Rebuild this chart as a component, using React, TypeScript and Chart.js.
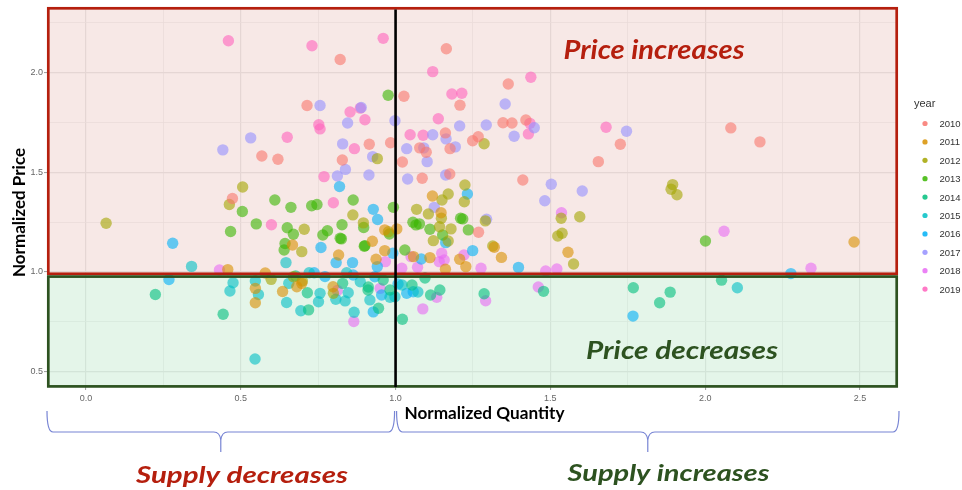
import React, { useEffect, useRef } from 'react';
import { Chart, registerables } from 'chart.js';

Chart.register(...registerables);

// ---------- data ----------
const years = ['2010', '2011', '2012', '2013', '2014', '2015', '2016', '2017', '2018', '2019'];
const yearColors = ['#F8766D', '#D89000', '#A3A500', '#39B600', '#00BF7D', '#00BFC4', '#00B0F6', '#9590FF', '#E76BF3', '#FF62BC'];

const d2010 = [[0.821,2.065],[0.714,1.834],[1.164,2.119],[1.364,1.942],[1.027,1.881],[1.208,1.836],[1.347,1.748],[1.376,1.747],[1.421,1.762],[1.161,1.697],[1.249,1.658],[1.267,1.678],[0.984,1.648],[1.078,1.622],[1.099,1.600],[1.176,1.618],[1.022,1.551],[0.915,1.640],[0.568,1.581],[0.620,1.565],[0.828,1.561],[0.473,1.368],[1.086,1.470],[1.175,1.491],[1.411,1.461],[1.268,1.199],[1.655,1.553],[1.726,1.640],[2.083,1.722],[2.177,1.652]];
const d2011 = [[0.458,1.012],[0.579,0.995],[0.547,0.918],[0.547,0.846],[0.681,0.926],[0.697,0.943],[0.635,0.902],[0.798,0.926],[0.667,1.135],[0.816,1.085],[0.925,1.154],[0.965,1.211],[1.004,1.216],[0.965,1.107],[0.937,1.064],[1.119,1.381],[1.147,1.297],[1.058,1.077],[1.111,1.072],[1.207,1.064],[1.227,1.027],[1.161,1.014],[1.319,1.124],[1.342,1.073],[1.557,1.099],[2.481,1.150]];
const d2012 = [[0.065,1.244],[0.506,1.426],[0.463,1.338],[0.862,1.286],[0.705,1.214],[0.896,1.246],[0.977,1.202],[0.941,1.568],[1.286,1.643],[0.697,1.102],[0.598,0.963],[0.670,0.976],[0.699,0.955],[0.799,0.893],[1.224,1.436],[1.170,1.391],[1.150,1.361],[1.222,1.352],[1.068,1.314],[1.106,1.291],[1.148,1.269],[1.142,1.227],[1.179,1.216],[1.290,1.256],[1.122,1.157],[1.170,1.155],[1.314,1.130],[1.524,1.180],[1.538,1.194],[1.595,1.277],[1.535,1.269],[1.575,1.040],[1.895,1.438],[1.890,1.415],[1.909,1.387]];
const d2013 = [[0.976,1.886],[0.610,1.361],[0.662,1.324],[0.729,1.332],[0.746,1.338],[0.863,1.361],[0.993,1.324],[0.505,1.303],[0.467,1.203],[0.550,1.241],[0.650,1.222],[0.670,1.189],[0.765,1.185],[0.780,1.207],[0.821,1.169],[0.825,1.166],[0.827,1.237],[0.897,1.223],[0.901,1.132],[0.643,1.143],[0.640,1.110],[0.899,1.129],[1.066,1.236],[1.077,1.241],[1.111,1.214],[1.210,1.269],[1.217,1.266],[1.235,1.211],[1.152,1.185],[1.030,1.110],[2.001,1.155],[0.980,1.190],[1.056,1.249]];
const d2014 = [[0.224,0.887],[0.443,0.788],[0.715,0.896],[0.719,0.810],[0.677,0.980],[0.829,0.943],[0.912,0.925],[0.960,0.960],[0.945,0.818],[1.022,0.763],[1.113,0.885],[1.286,0.891],[1.478,0.903],[1.768,0.921],[1.887,0.899],[1.853,0.846],[2.053,0.959],[0.911,0.910],[1.053,0.935],[1.095,0.970],[1.143,0.910],[0.982,0.910]];
const d2015 = [[0.341,1.028],[0.475,0.946],[0.465,0.905],[0.547,0.955],[0.557,0.887],[0.646,1.047],[0.655,0.943],[0.648,0.847],[0.694,0.806],[0.756,0.893],[0.751,0.851],[0.721,0.996],[0.842,0.996],[0.847,0.896],[0.837,0.855],[0.807,0.863],[0.866,0.798],[0.546,0.564],[0.886,0.951],[0.982,0.873],[0.998,0.876],[2.104,0.921],[1.021,0.935],[1.072,0.900],[0.917,0.860]];
const d2016 = [[0.819,1.428],[0.928,1.314],[0.942,1.263],[0.280,1.144],[0.759,1.123],[1.232,1.391],[1.162,1.147],[0.991,1.094],[1.083,1.065],[1.249,1.107],[1.397,1.023],[0.808,1.047],[0.861,1.047],[0.941,1.027],[0.268,0.962],[0.928,0.800],[0.955,0.885],[1.036,0.893],[1.057,0.901],[0.772,0.977],[0.737,0.996],[0.863,0.985],[0.933,0.976],[2.277,0.992],[1.767,0.779],[1.008,0.940]];
const d2017 = [[0.756,1.834],[0.889,1.824],[0.998,1.758],[0.845,1.747],[0.532,1.672],[0.442,1.612],[0.829,1.642],[0.926,1.578],[0.838,1.514],[0.812,1.481],[0.914,1.486],[1.354,1.842],[1.207,1.732],[1.293,1.737],[1.448,1.723],[1.383,1.680],[1.120,1.688],[1.163,1.667],[1.036,1.618],[1.091,1.622],[1.193,1.627],[1.102,1.553],[1.039,1.466],[1.162,1.486],[1.503,1.440],[1.603,1.406],[1.482,1.357],[1.125,1.324],[1.294,1.264],[1.746,1.705]];
const d2018 = [[0.431,1.010],[0.967,1.052],[1.050,1.077],[1.149,1.094],[1.141,1.052],[1.157,1.060],[1.221,1.085],[1.276,1.019],[1.485,1.005],[1.521,1.015],[1.536,1.297],[1.020,1.019],[1.071,1.024],[2.061,1.204],[2.342,1.019],[0.812,0.907],[0.865,0.752],[1.088,0.815],[1.133,0.873],[1.291,0.856],[1.461,0.925],[0.950,0.918]];
const d2019 = [[0.460,2.159],[0.730,2.134],[0.960,2.171],[1.120,2.004],[1.437,1.976],[1.182,1.892],[1.214,1.896],[1.138,1.768],[1.434,1.745],[1.429,1.692],[1.047,1.688],[1.089,1.685],[0.853,1.802],[0.886,1.821],[0.901,1.763],[0.752,1.738],[0.756,1.717],[0.650,1.675],[0.867,1.618],[0.769,1.478],[0.799,1.347],[0.599,1.237],[1.680,1.725]];

const seriesData = [d2010, d2011, d2012, d2013, d2014, d2015, d2016, d2017, d2018, d2019];

const xMajorTicks = [0, 0.5, 1, 1.5, 2, 2.5];
const xTickLabels = ['0.0', '0.5', '1.0', '1.5', '2.0', '2.5'];
const yMajorTicks = [0.5, 1, 1.5, 2];
const yTickLabels = ['0.5', '1.0', '1.5', '2.0'];

const xTitle = 'Normalized Quantity';
const yTitle = 'Normalized Price';
const legendTitle = 'year';
const textPriceUp = 'Price increases';
const textPriceDown = 'Price decreases';
const textSupplyDown = 'Supply decreases';
const textSupplyUp = 'Supply increases';

// ---------- helpers ----------
const RED = '#b51f0e';
const GREEN = '#2d5220';
const BRACE = '#7784d4';

function rgba(hex: string, a: number) {
  const n = parseInt(hex.slice(1), 16);
  return `rgba(${(n >> 16) & 255},${(n >> 8) & 255},${n & 255},${a})`;
}

function labelFor(v: number, majors: number[], labels: string[]) {
  const i = majors.findIndex((m) => Math.abs(m - v) < 1e-6);
  return i >= 0 ? labels[i] : '';
}
function isMajor(v: number | undefined, majors: number[]) {
  if (v === undefined) return false;
  return majors.some((m) => Math.abs(m - v) < 1e-6);
}

function boxText(
  ctx: CanvasRenderingContext2D, text: string, cx: number, baseline: number,
  width: number, capH: number, font: string, color: string, rotate = false
) {
  const size = capH / 0.717;
  ctx.save();
  ctx.font = font.replace('SIZE', `${size}px`);
  const w = ctx.measureText(text).width;
  ctx.translate(cx, baseline);
  if (rotate) ctx.rotate(-Math.PI / 2);
  ctx.scale(width / w, 1);
  ctx.fillStyle = color;
  ctx.textAlign = 'center';
  ctx.textBaseline = 'alphabetic';
  ctx.fillText(text, 0, 0);
  ctx.restore();
}

function brace(ctx: CanvasRenderingContext2D, x0: number, x1: number, yTop: number, yLine: number, yTip: number) {
  const tip = (x0 + x1) / 2;
  ctx.beginPath();
  ctx.moveTo(x0, yTop);
  ctx.quadraticCurveTo(x0, yLine, x0 + 6, yLine);
  ctx.lineTo(tip - 7, yLine);
  ctx.quadraticCurveTo(tip - 1, yLine, tip, yLine + 8);
  ctx.lineTo(tip, yTip);
  ctx.moveTo(tip, yLine + 8);
  ctx.quadraticCurveTo(tip + 1, yLine, tip + 7, yLine);
  ctx.lineTo(x1 - 6, yLine);
  ctx.quadraticCurveTo(x1, yLine, x1, yTop);
  ctx.stroke();
}

const overlayPlugin = {
  id: 'quadrants',
  beforeDatasetsDraw(chart: any) {
    const { ctx, chartArea: a, scales } = chart;
    const y1 = scales.y.getPixelForValue(1);
    ctx.save();
    ctx.fillStyle = 'rgba(232,184,178,0.33)';
    ctx.fillRect(a.left, a.top, a.right - a.left, y1 + 2 - a.top);
    ctx.fillStyle = 'rgba(181,226,195,0.36)';
    ctx.fillRect(a.left, y1 + 3, a.right - a.left, a.bottom - y1 - 3);
    ctx.restore();
  },
  afterDatasetsDraw(chart: any) {
    const { ctx, chartArea: a, scales } = chart;
    const x1 = scales.x.getPixelForValue(1);
    const y1 = scales.y.getPixelForValue(1);
    ctx.save();
    // borders
    ctx.lineWidth = 2.7;
    ctx.strokeStyle = RED;
    ctx.strokeRect(a.left + 1.3, a.top + 1.3, a.right - a.left - 2.6, y1 + 1.8 - (a.top + 1.3));
    ctx.strokeStyle = GREEN;
    ctx.strokeRect(a.left + 1.3, y1 + 4.6, a.right - a.left - 2.6, a.bottom - 0.6 - (y1 + 4.6));
    // vertical line at quantity = 1
    ctx.strokeStyle = '#000';
    ctx.lineWidth = 2.6;
    ctx.beginPath();
    ctx.moveTo(x1, a.top + 2.5);
    ctx.lineTo(x1, a.bottom);
    ctx.stroke();

    // annotation texts
    const italic = 'italic bold SIZE Lato, "DejaVu Sans", sans-serif';
    boxText(ctx, textPriceUp, 654, 58.5, 181, 19, italic, RED);
    boxText(ctx, textPriceDown, 682, 359.3, 192, 17.8, italic, GREEN);
    boxText(ctx, textSupplyDown, 242, 482.5, 212, 17, italic, RED);
    boxText(ctx, textSupplyUp, 668.5, 480.7, 202, 17, italic, GREEN);

    // axis titles
    const bold = 'bold SIZE Lato, "Liberation Sans", sans-serif';
    boxText(ctx, xTitle, (a.left + a.right) / 2 + 12, 419.3, 160, 11.6, bold, '#000');
    boxText(ctx, yTitle, 25, 212.5, 129, 11.6, bold, '#000', true);

    // braces
    ctx.strokeStyle = BRACE;
    ctx.lineWidth = 1.2;
    brace(ctx, a.left, x1 - 1, 411, 432, 452);
    brace(ctx, x1 + 1, a.right + 1, 411, 432, 452);

    // legend
    ctx.fillStyle = '#333';
    ctx.font = '11px "Liberation Sans", Arial, sans-serif';
    ctx.textAlign = 'left';
    ctx.textBaseline = 'alphabetic';
    ctx.fillText(legendTitle, 914, 106.5);
    ctx.font = '9.5px "Liberation Sans", Arial, sans-serif';
    years.forEach((yr, i) => {
      const cy = 123.5 + i * 18.4;
      ctx.fillStyle = rgba(yearColors[i], 0.85);
      ctx.beginPath();
      ctx.arc(925, cy, 2.6, 0, Math.PI * 2);
      ctx.fill();
      ctx.fillStyle = '#333';
      ctx.fillText(yr, 939.5, cy + 3.4);
    });
    ctx.restore();
  },
};

export default function App() {
  const ref = useRef<HTMLCanvasElement | null>(null);

  useEffect(() => {
    if (!ref.current) return;
    const gridColor = (majors: number[]) => (c: any) => (isMajor(c.tick?.value, majors) ? '#e4e4e4' : '#ececec');
    const gridWidth = (majors: number[]) => (c: any) => (isMajor(c.tick?.value, majors) ? 1.2 : 0.8);
    const tickColor = (majors: number[]) => (c: any) => (isMajor(c.tick?.value, majors) ? '#9a9a9a' : 'rgba(0,0,0,0)');
    const tickFont = { family: '"Liberation Sans", Arial, sans-serif', size: 9 };

    const chart = new Chart(ref.current, {
      type: 'scatter',
      data: {
        datasets: years.map((yr, i) => ({
          label: yr,
          data: seriesData[i].map(([x, y]) => ({ x, y })),
          backgroundColor: rgba(yearColors[i], 0.6),
          borderWidth: 0,
          pointRadius: 5.7,
          pointHoverRadius: 5.7,
        })),
      },
      options: {
        animation: false,
        responsive: false,
        maintainAspectRatio: false,
        layout: { padding: { top: 7, right: 64, bottom: 0, left: 0 } },
        plugins: { legend: { display: false }, tooltip: { enabled: false } },
        scales: {
          x: {
            type: 'linear',
            min: -0.126,
            max: 2.623,
            afterFit: (s: any) => { s.height = 103; },
            border: { display: false },
            grid: {
              color: gridColor(xMajorTicks),
              lineWidth: gridWidth(xMajorTicks),
              tickColor: tickColor(xMajorTicks),
              tickLength: 3,
              tickWidth: 1,
            },
            ticks: {
              stepSize: 0.25,
              includeBounds: false,
              autoSkip: false,
              maxRotation: 0,
              padding: 3,
              color: '#666',
              font: tickFont,
              callback: (v: any) => labelFor(Number(v), xMajorTicks, xTickLabels),
            },
          },
          y: {
            type: 'linear',
            min: 0.4236,
            max: 2.328,
            afterFit: (s: any) => { s.width = 47; },
            border: { display: false },
            grid: {
              color: gridColor(yMajorTicks),
              lineWidth: gridWidth(yMajorTicks),
              tickColor: tickColor(yMajorTicks),
              tickLength: 3,
              tickWidth: 1,
            },
            ticks: {
              stepSize: 0.25,
              includeBounds: false,
              autoSkip: false,
              padding: 1,
              color: '#666',
              font: tickFont,
              callback: (v: any) => labelFor(Number(v), yMajorTicks, yTickLabels),
            },
          },
        },
      } as any,
      plugins: [overlayPlugin],
    });
    return () => chart.destroy();
  }, []);

  return (
    <div style={{ position: 'absolute', left: 0, top: 0, width: 962, height: 490, background: '#fff' }}>
      <canvas ref={ref} width={962} height={490} style={{ width: 962, height: 490, display: 'block' }} />
    </div>
  );
}
